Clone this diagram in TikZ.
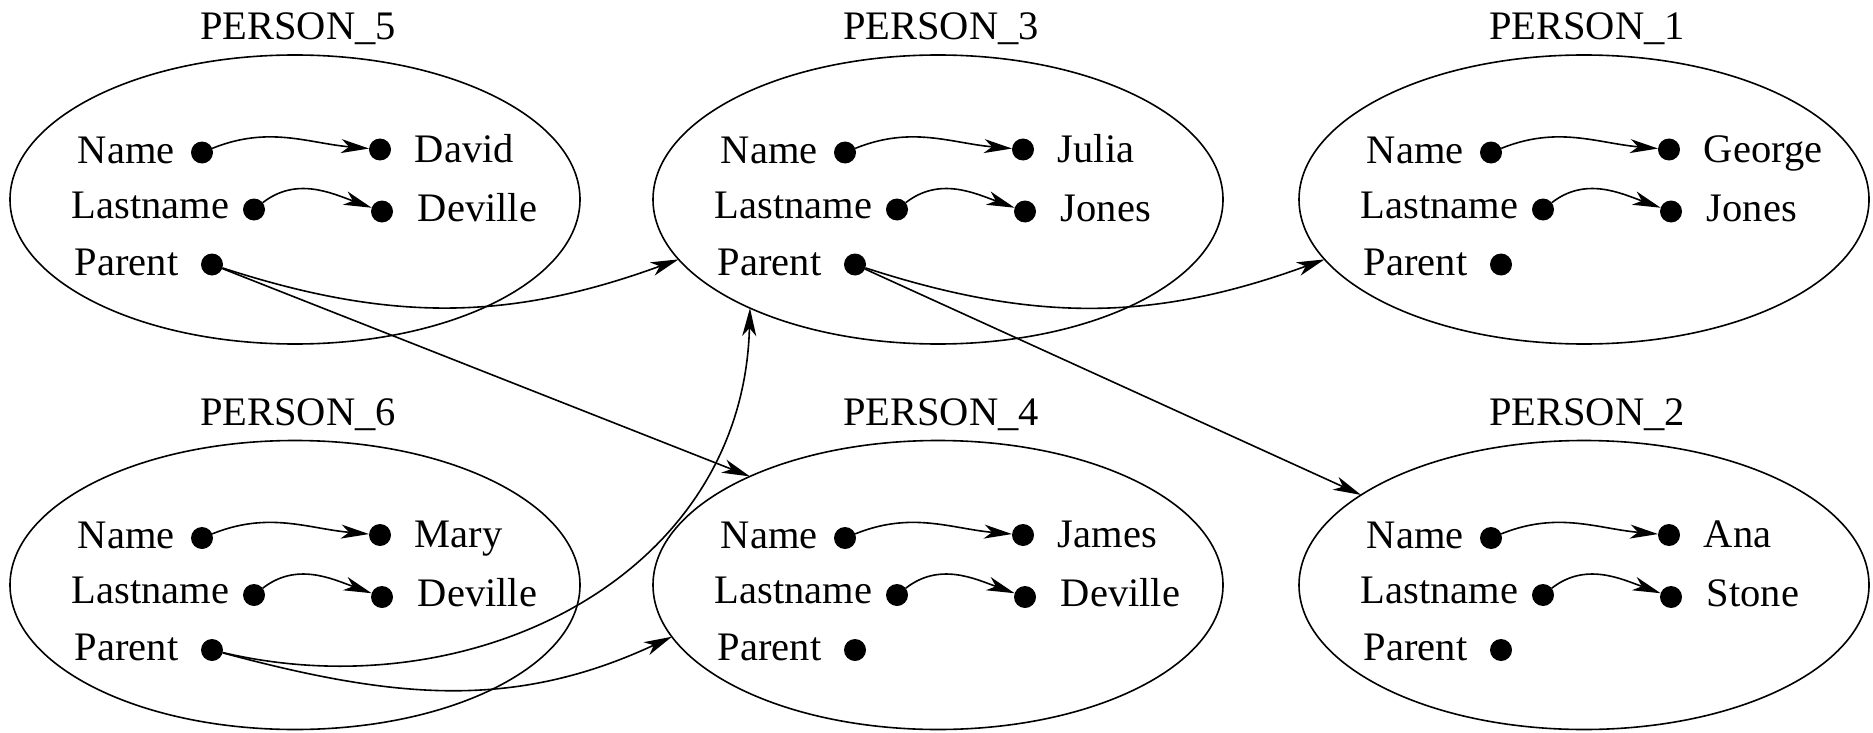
\documentclass[tikz,border=0pt]{standalone}
\usepackage{fontspec}
\setmainfont{Liberation Serif}
\usetikzlibrary{arrows.meta,shapes.geometric}
\tikzset{
  pbox/.style={ellipse, draw, minimum width=570pt, minimum height=289pt, inner sep=0pt, outer sep=0pt},
  lbl/.style={inner sep=0pt, anchor=base west},
  ttl/.style={inner sep=0pt, anchor=base},
  pdot/.style={circle, fill, minimum size=22pt, inner sep=0pt, outer sep=0pt},
  arr/.style={-{Stealth[length=28pt,width=14pt,inset=8pt]}},
}
\newcommand\personbox[6]{%
  \begin{scope}[shift={(#2,#3)}]
    \node[pbox] (#1) at (0,0) {};
    \node[ttl] (#1-t) at (3,159.5) {PERSON\_#4};
    \node[lbl] (#1-nl) at (-218,36.5) {Name};
    \node[lbl] (#1-ll) at (-224,-18.5) {Lastname};
    \node[lbl] (#1-pl) at (-221,-75.5) {Parent};
    \node[pdot] (#1-nd) at (-93,47) {};
    \node[pdot] (#1-ld) at (-41,-10) {};
    \node[pdot] (#1-pd) at (-83,-65) {};
    \node[pdot] (#1-nv) at (85,50) {};
    \node[pdot] (#1-lv) at (87,-12) {};
    \node[lbl] (#1-nt) at (119,37.5) {#5};
    \node[lbl] (#1-lt) at (122,-21.5) {#6};
    \draw[arr] (#1-nd) to[out=22,in=175] (#1-nv);
    \draw[arr] (#1-ld) to[out=38,in=160] (#1-lv);
  \end{scope}}
\begin{document}
\begin{tikzpicture}[x=1pt,y=1pt,line width=1.6pt,font=\fontsize{40.5}{48}\selectfont]
  \useasboundingbox (0,0) rectangle (1873,-733);
  \personbox{p5}{295}{-199.5}{5}{David}{Deville}
  \personbox{p3}{938}{-199.5}{3}{Julia}{Jones}
  \personbox{p1}{1584}{-199.5}{1}{George}{Jones}
  \personbox{p6}{295}{-585}{6}{Mary}{Deville}
  \personbox{p4}{938}{-585}{4}{James}{Deville}
  \personbox{p2}{1584}{-585}{2}{Ana}{Stone}
  \draw[arr] (p5-pd) to[out=-18,in=200] (p3.193);
  \draw[arr] (p5-pd) -- (p4.150);
  \draw[arr] (p3-pd) to[out=-18,in=200] (p1.193);
  \draw[arr] (p3-pd) -- (p2.158);
  \draw[arr] (p6-pd) .. controls +(258,-61) and +(-7,-270) .. (p3.210);
  \draw[arr] (p6-pd) to[out=-15,in=205] (p4.191);
\end{tikzpicture}
\end{document}
